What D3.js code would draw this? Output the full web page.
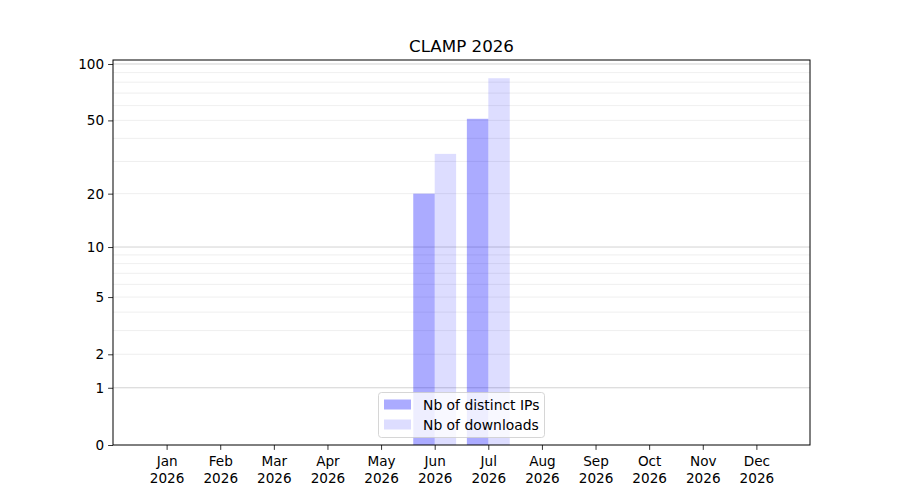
<!DOCTYPE html>
<html>
<head>
<meta charset="utf-8">
<script src="https://cdn.jsdelivr.net/npm/d3@7"></script>
<style>
  body { margin: 0; background: #fff; }
  text { font-family: "DejaVu Sans", sans-serif; }
</style>
</head>
<body>
<div id="chart"></div>
<script>
// data
const months = ["Jan", "Feb", "Mar", "Apr", "May", "Jun", "Jul", "Aug", "Sep", "Oct", "Nov", "Dec"];
const year = "2026";
const distinctIPs = [0, 0, 0, 0, 0, 20, 51, 0, 0, 0, 0, 0];
const downloads = [0, 0, 0, 0, 0, 33, 84, 0, 0, 0, 0, 0];
const yTicks = [0, 1, 2, 5, 10, 20, 50, 100];
const majorGrid = [1, 10, 100];
const minorGrid = [2, 3, 4, 5, 6, 7, 8, 9, 20, 30, 40, 50, 60, 70, 80, 90];

const width_svg = 900, height_svg = 500;
const margin = {top: 60, right: 90, bottom: 55, left: 113};
const width = width_svg - margin.left - margin.right;
const height = height_svg - margin.top - margin.bottom;

const svg = d3.select("#chart")
              .append("svg")
              .attr("width", width_svg)
              .attr("height", height_svg);

const g = svg.append("g")
             .attr("transform", `translate(${margin.left},${margin.top})`);

const x = d3.scaleLinear().domain([-1, 12]).range([0, width]);
const yMax = d3.max(downloads) * 1.25;
const y = d3.scaleSymlog().constant(1).domain([0, yMax]).range([height, 0]);

// grid lines
g.append("g").selectAll("line")
  .data(minorGrid)
  .join("line")
  .attr("x1", 0).attr("x2", width)
  .attr("y1", d => y(d)).attr("y2", d => y(d))
  .attr("stroke", "#ebebeb")
  .attr("stroke-width", 0.8);

g.append("g").selectAll("line")
  .data(majorGrid)
  .join("line")
  .attr("x1", 0).attr("x2", width)
  .attr("y1", d => y(d)).attr("y2", d => y(d))
  .attr("stroke", "#c8c8c8")
  .attr("stroke-width", 0.8);

// bars
const barW = 0.4;
g.append("g").selectAll("rect")
  .data(distinctIPs)
  .join("rect")
  .attr("x", (d, i) => x(i - barW))
  .attr("width", x(barW) - x(0))
  .attr("y", d => y(d))
  .attr("height", d => y(0) - y(d))
  .attr("fill", "rgba(0,0,255,0.33)");

g.append("g").selectAll("rect")
  .data(downloads)
  .join("rect")
  .attr("x", (d, i) => x(i))
  .attr("width", x(barW) - x(0))
  .attr("y", d => y(d))
  .attr("height", d => y(0) - y(d))
  .attr("fill", "rgba(0,0,255,0.135)");

// axes
const xAxis = g.append("g")
  .attr("transform", `translate(0,${height})`)
  .call(d3.axisBottom(x).tickValues(d3.range(months.length)).tickSize(4.9).tickPadding(3).tickFormat(""));
xAxis.select(".domain").remove();
xAxis.selectAll(".tick line").attr("stroke", "#000").attr("stroke-width", 0.8);
xAxis.selectAll(".tick").each(function (d) {
  const t = d3.select(this).append("text")
    .attr("fill", "#000")
    .attr("text-anchor", "middle")
    .style("font-size", "13.6px");
  t.append("tspan").attr("x", 0).attr("y", 21).text(months[d]);
  t.append("tspan").attr("x", 0).attr("y", 38).text(year);
});

const yAxis = g.append("g")
  .call(d3.axisLeft(y).tickValues(yTicks).tickSize(4.9).tickPadding(4).tickFormat(d3.format("d")));
yAxis.select(".domain").remove();
yAxis.selectAll(".tick line").attr("stroke", "#000").attr("stroke-width", 0.8);
yAxis.selectAll(".tick text")
  .attr("fill", "#000")
  .style("font-size", "13.6px")
  .style("font-family", "DejaVu Sans, sans-serif");

// frame
g.append("rect")
  .attr("width", width).attr("height", height)
  .attr("fill", "none")
  .attr("stroke", "#000")
  .attr("stroke-width", 1);

// title
svg.append("text")
  .attr("x", margin.left + width / 2)
  .attr("y", 52)
  .attr("text-anchor", "middle")
  .style("font-size", "16.7px")
  .text("CLAMP 2026");

// legend
const legendItems = [
  {label: "Nb of distinct IPs", fill: "rgba(0,0,255,0.33)"},
  {label: "Nb of downloads", fill: "rgba(0,0,255,0.135)"}
];
const legend = svg.append("g").attr("transform", "translate(378.5,392.5)");
legend.append("rect")
  .attr("width", 166).attr("height", 45)
  .attr("rx", 3)
  .attr("fill", "rgba(255,255,255,0.8)")
  .attr("stroke", "#cccccc")
  .attr("stroke-width", 0.8);
legend.selectAll("g.item")
  .data(legendItems)
  .join("g")
  .attr("class", "item")
  .attr("transform", (d, i) => `translate(0,${7 + i * 20})`)
  .each(function (d) {
    const it = d3.select(this);
    it.append("rect")
      .attr("x", 5.5).attr("y", 0)
      .attr("width", 27).attr("height", 10)
      .attr("fill", d.fill);
    it.append("text")
      .attr("x", 44.5).attr("y", 10)
      .style("font-size", "13.9px")
      .text(d.label);
  });
</script>
</body>
</html>
